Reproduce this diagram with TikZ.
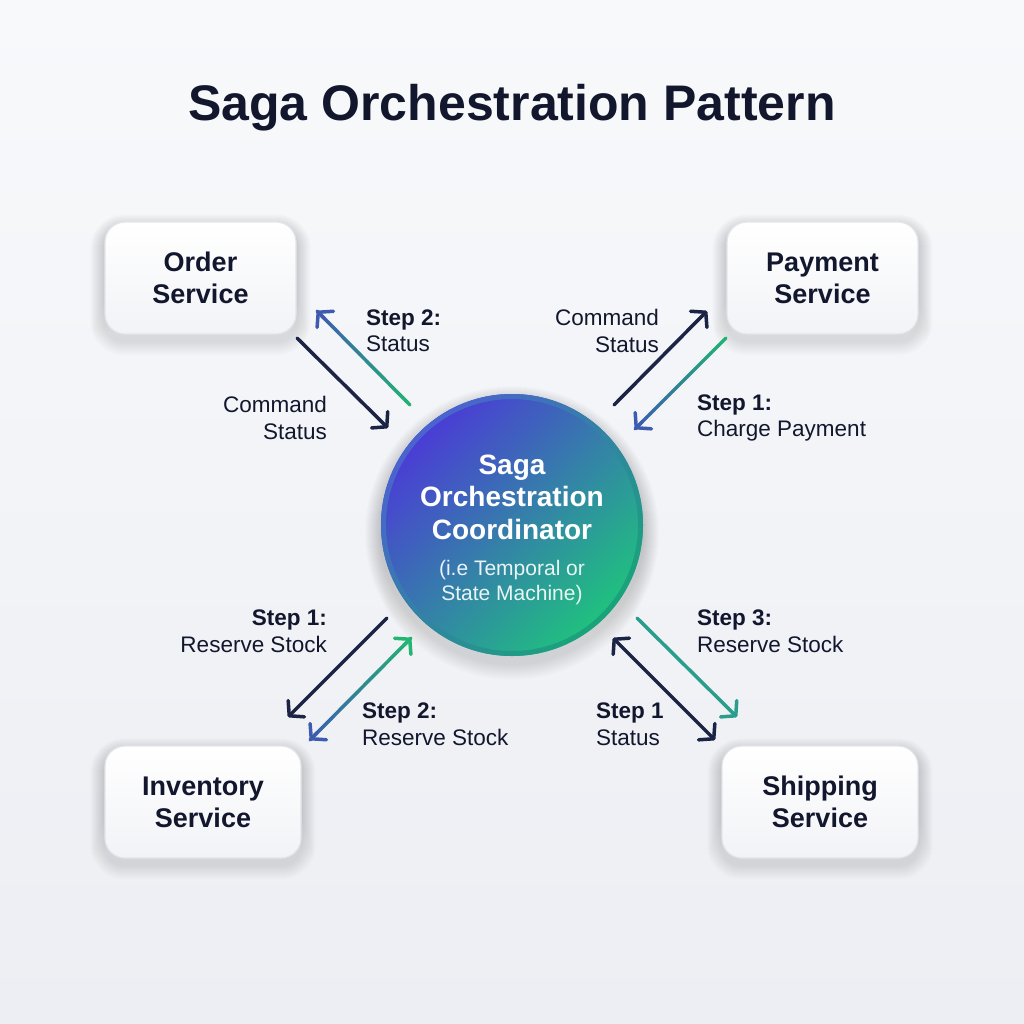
\documentclass[tikz,border=0pt]{standalone}
\usepackage{fontspec}
\setmainfont{Liberation Sans}
\usetikzlibrary{arrows.meta,calc}
\pgfdeclarelayer{bg}
\pgfdeclarelayer{shadow}
\pgfsetlayers{bg,shadow,main}
\definecolor{ink}{HTML}{12172E}
\definecolor{navy}{HTML}{1B2444}
\definecolor{gblue}{HTML}{3D5CB0}
\definecolor{ggreen}{HTML}{22B573}
\definecolor{tealarr}{HTML}{2A9D8C}
\definecolor{cpurple}{HTML}{4B3BD6}
\definecolor{cgreen}{HTML}{1FC27E}
\definecolor{ringA}{HTML}{4A63CF}
\definecolor{ringB}{HTML}{1AA37A}
\definecolor{bgtop}{HTML}{F8F9FB}
\definecolor{bgbot}{HTML}{ECEEF3}
\definecolor{boxline}{HTML}{E3E5EC}
\definecolor{boxbot}{HTML}{F2F3F7}
\definecolor{shade}{HTML}{2A3050}
\newcommand{\gline}[4]{%
  \foreach \k in {0,...,23}{%
    \pgfmathsetmacro{\ta}{\k/24}\pgfmathsetmacro{\tb}{(\k+1)/24}%
    \pgfmathtruncatemacro{\pc}{100-(\k+0.5)*100/24}%
    \draw[line width=3.5pt, line cap=round, draw=#3!\pc!#4] ($(#1)!\ta!(#2)$) -- ($(#1)!\tb!(#2)$);}}
\newcommand{\boxshadow}[1]{%
  \begin{pgfonlayer}{shadow}
  \foreach \i in {1,...,14}{%
    \fill[shade, opacity=0.0075, rounded corners={20pt+\i pt}]
      ($(#1.north west)+(-\i,-\i+7)$) rectangle ($(#1.south east)+(\i,\i+7)$);}
  \end{pgfonlayer}}
\begin{document}
\begin{tikzpicture}[x=1pt,y=-1pt,
  svc/.style={draw=boxline, line width=1.2pt, rounded corners=20pt, top color=white, bottom color=boxbot,
    minimum height=112pt, align=center, font=\fontsize{27}{32}\selectfont\bfseries, text=ink},
  lbl/.style={font=\fontsize{22.5}{26.5}\selectfont, text=ink, inner sep=0pt},
  tipp/.style={-{Straight Barb[round,length=10pt,width=23pt]}},
  arr/.style={line width=3.5pt, line cap=round, tipp},
  darr/.style={line width=3.5pt, line cap=round, {Straight Barb[round,length=10pt,width=23pt]}-{Straight Barb[round,length=10pt,width=23pt]}}
]
\begin{pgfonlayer}{bg}
\shade[top color=bgtop,bottom color=bgbot] (0,0) rectangle (1024,1024);
\end{pgfonlayer}
\useasboundingbox (0,0) rectangle (1024,1024);

\node[font=\fontsize{50}{60}\selectfont\bfseries, text=ink, anchor=base] (title) at (512,121) {Saga Orchestration Pattern};

\node[svc, minimum width=191pt] (order) at (200.5,278) {Order\\Service};
\node[svc, minimum width=191pt] (payment) at (822.5,278) {Payment\\Service};
\node[svc, minimum width=196pt] (inventory) at (203,802) {Inventory\\Service};
\node[svc, minimum width=196pt] (shipping) at (820,802) {Shipping\\Service};
\boxshadow{order}\boxshadow{payment}\boxshadow{inventory}\boxshadow{shipping}

\node[circle, minimum size=262pt, inner sep=0pt, left color=cpurple, right color=cgreen, shading angle=45] (coord) at (512,525) {};
\begin{pgfonlayer}{shadow}
\foreach \i in {1,...,16}{\fill[shade, opacity=0.008] ($(coord.center)+(0,8)$) circle[radius={131pt+\i pt}];}
\end{pgfonlayer}
\shade[even odd rule, left color=ringA, right color=ringB, shading angle=45]
  (coord.center) circle[radius=131pt] circle[radius=126pt];
\node[font=\fontsize{28}{32.5}\selectfont\bfseries, text=white, align=center] (ct) at (512,497) {Saga\\Orchestration\\Coordinator};
\node[font=\fontsize{21}{25}\selectfont, text=white, text opacity=0.9, align=center] (cs) at (512,583) {(i.e Temporal or\\State Machine)};

% arrow end points
\coordinate (a1s) at (297,338); \coordinate (a1e) at (388,428);
\coordinate (a2s) at (410,405); \coordinate (a2e) at (317,311);
\coordinate (b1s) at (614,405); \coordinate (b1e) at (707,311);
\coordinate (b2s) at (726,338); \coordinate (b2e) at (635,429);
\coordinate (c1s) at (387,618); \coordinate (c1e) at (288,717);
\coordinate (c2s) at (310,740); \coordinate (c2e) at (411,638);
\coordinate (d1s) at (637,618); \coordinate (d1e) at (737,717);
\coordinate (d2s) at (613,638); \coordinate (d2e) at (715,740);

% top-left
\draw[arr, draw=navy] (a1s) -- (a1e);
\gline{a2s}{a2e}{ggreen}{gblue}
\draw[arr, draw=gblue] ($(a2e)!10pt!(a2s)$) -- (a2e);
% top-right
\draw[arr, draw=navy] (b1s) -- (b1e);
\gline{b2s}{b2e}{ggreen}{gblue}
\draw[arr, draw=gblue] ($(b2e)!10pt!(b2s)$) -- (b2e);
% bottom-left
\draw[arr, draw=navy] (c1s) -- (c1e);
\gline{c2e}{c2s}{ggreen}{gblue}
\draw[arr, draw=gblue] ($(c2s)!10pt!(c2e)$) -- (c2s);
\draw[arr, draw=ggreen] ($(c2e)!10pt!(c2s)$) -- (c2e);
% bottom-right
\draw[arr, draw=tealarr] (d1s) -- (d1e);
\draw[darr, draw=navy] (d2s) -- (d2e);

% labels
\node[lbl, anchor=west, align=left] (l1) at (366,331) {\textbf{Step 2:}\\Status};
\node[lbl, anchor=east, align=right] (l2) at (327,418) {Command\\Status};
\node[lbl, anchor=east, align=right] (l3) at (659,331) {Command\\Status};
\node[lbl, anchor=west, align=left] (l4) at (697,418) {\textbf{Step 1:}\\Charge Payment};
\node[lbl, anchor=east, align=right] (l5) at (327,631) {\textbf{Step 1:}\\Reserve Stock};
\node[lbl, anchor=west, align=left] (l6) at (362,724) {\textbf{Step 2:}\\Reserve Stock};
\node[lbl, anchor=west, align=left] (l7) at (697,631) {\textbf{Step 3:}\\Reserve Stock};
\node[lbl, anchor=west, align=left] (l8) at (596,724) {\textbf{Step 1}\\Status};
\end{tikzpicture}
\end{document}
